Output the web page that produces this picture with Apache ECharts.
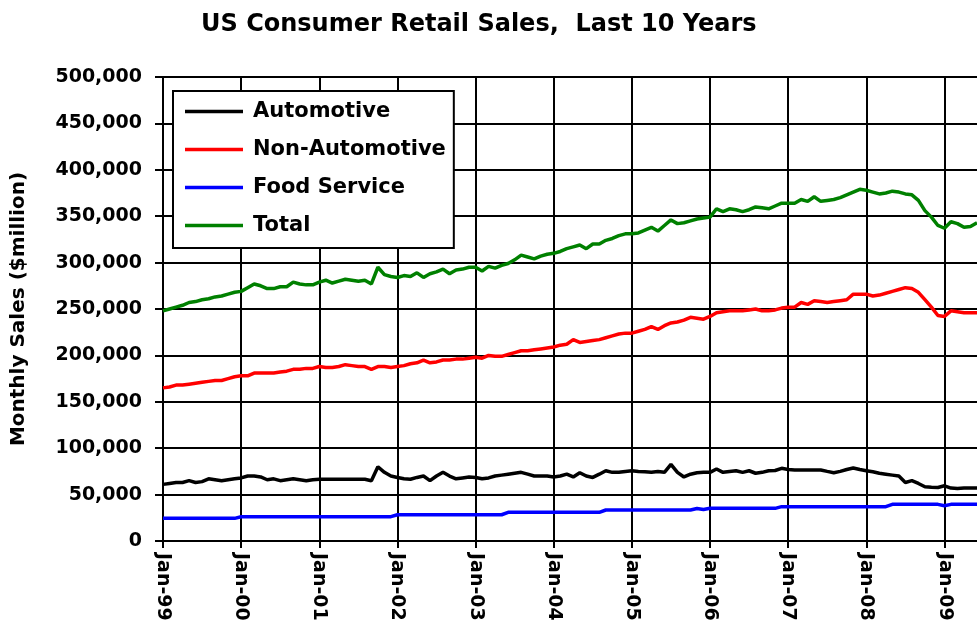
<!DOCTYPE html>
<html>
<head>
<meta charset="utf-8">
<script src="https://cdn.jsdelivr.net/npm/echarts@6/dist/echarts.min.js"></script>
<style>
  html, body { margin: 0; padding: 0; background: #fff; }
  #chart { width: 977px; height: 637px; }
</style>
</head>
<body>
<div id="chart"></div>
<script>
// monthly data, Jan-99 .. Jun-09 ($million)
const years = ['99', '00', '01', '02', '03', '04', '05', '06', '07', '08', '09']
const monthNames = ['Jan', 'Feb', 'Mar', 'Apr', 'May', 'Jun', 'Jul', 'Aug', 'Sep', 'Oct', 'Nov', 'Dec']
const lastMonthCount = 6 // 2009 stops in June

const automotive = [
  61000, 62000, 63000, 63000, 65000, 63000, 64000, 67000, 66000, 65000, 66000, 67000,
  68000, 70000, 70000, 69000, 66000, 67000, 65000, 66000, 67000, 66000, 65000, 66000,
  66500, 66500, 66500, 66500, 66500, 66500, 66500, 66500, 65000, 80000, 74000, 70000,
  68500, 67000, 66500, 68500, 70000, 65000, 70000, 74000, 70000, 67000, 68000, 69000,
  68500, 67000, 68000, 70000, 71000, 72000, 73000, 74000, 72000, 70000, 70000, 70000,
  69000, 70000, 72000, 69000, 73600, 70000, 68500, 72000, 75700, 74000, 74000, 75000,
  75700, 75000, 74500, 74000, 75000, 74000, 82600, 74000, 69000, 72000, 73600, 74000,
  74000, 77600, 74000, 75000, 75700, 74000, 75700, 73000, 74000, 75700, 76000, 78300,
  77000, 76500, 76500, 76500, 76500, 76500, 75000, 73600, 75000, 77000, 78700, 77000,
  75700, 74600, 73000, 72000, 71000, 70000, 63000, 65000, 62000, 58500, 58000, 57700,
  59500, 57000, 56500, 57000, 57000, 57000
]
const nonAutomotive = [
  165000, 166000, 168000, 168000, 169000, 170000, 171000, 172000, 173000, 173000, 175000, 177000,
  178000, 178000, 181000, 181000, 181000, 181000, 182000, 183000, 185000, 185000, 186000, 186000,
  188000, 187000, 187000, 188000, 190000, 189000, 188000, 188000, 185000, 188000, 188000, 187000,
  188000, 189000, 191000, 192000, 195000, 192000, 193000, 195000, 195000, 196000, 196000, 197000,
  198000, 197000, 200000, 199000, 199000, 201000, 203000, 205000, 205000, 206000, 207000, 208000,
  209000, 211000, 212000, 217000, 214000, 215000, 216000, 217000, 219000, 221000, 223000, 224000,
  224000, 226000, 228000, 231000, 228000, 232000, 235000, 236000, 238000, 241000, 240000, 239000,
  242000, 246000, 247000, 248000, 248000, 248000, 249000, 250000, 248000, 248000, 249000, 251000,
  252000, 252000, 257000, 255000, 259000, 258000, 257000, 258000, 259000, 260000, 266000, 266000,
  266000, 264000, 265000, 267000, 269000, 271000, 273000, 272000, 268000, 260000, 252000, 243000,
  242000, 248000, 247000, 246000, 246000, 246000
]
const foodService = [
  24400, 24400, 24400, 24400, 24400, 24400, 24400, 24400, 24400, 24400, 24400, 24400,
  26200, 26200, 26200, 26200, 26200, 26200, 26200, 26200, 26200, 26200, 26200, 26200,
  26200, 26200, 26200, 26200, 26200, 26200, 26200, 26200, 26200, 26200, 26200, 26200,
  28300, 28300, 28300, 28300, 28300, 28300, 28300, 28300, 28300, 28300, 28300, 28300,
  28300, 28300, 28300, 28300, 28300, 30900, 30900, 30900, 30900, 30900, 30900, 30900,
  30900, 30900, 30900, 30900, 30900, 30900, 30900, 30900, 33400, 33400, 33400, 33400,
  33400, 33400, 33400, 33400, 33400, 33400, 33400, 33400, 33400, 33400, 35000, 34000,
  35200, 35200, 35200, 35200, 35200, 35200, 35200, 35200, 35200, 35200, 35200, 37000,
  37000, 37000, 37000, 37000, 37000, 37000, 37000, 37000, 37000, 37000, 37000, 37000,
  37000, 37000, 37000, 37000, 39500, 39500, 39500, 39500, 39500, 39500, 39500, 39500,
  38000, 39500, 39500, 39500, 39500, 39500
]
const total = [
  248000, 250000, 252000, 254000, 257000, 258000, 260000, 261000, 263000, 264000, 266000, 268000,
  269000, 273000, 277000, 275000, 272000, 272000, 274000, 274000, 279000, 277000, 276000, 276000,
  279000, 281000, 278000, 280000, 282000, 281000, 280000, 281000, 277000, 295000, 287000, 285000,
  284000, 286000, 285000, 289000, 284000, 288000, 290000, 293000, 288000, 292000, 293000, 295000,
  295000, 291000, 296000, 294000, 297000, 299000, 303000, 308000, 306000, 304000, 307000, 309000,
  310000, 312000, 315000, 317000, 319000, 315000, 320000, 320000, 324000, 326000, 329000, 331000,
  331000, 332000, 335000, 338000, 334000, 340000, 346000, 342000, 343000, 345000, 347000, 348000,
  349000, 358000, 355000, 358000, 357000, 355000, 357000, 360000, 359000, 358000, 361000, 364000,
  364000, 364000, 368000, 366000, 371000, 366000, 367000, 368000, 370000, 373000, 376000, 379000,
  378000, 376000, 374000, 375000, 377000, 376000, 374000, 373000, 367000, 356000, 349000, 340000,
  337000, 344000, 342000, 338000, 339000, 343000
]

const seriesNames = ['Automotive', 'Non-Automotive', 'Food Service', 'Total']
const seriesColors = ['#000000', '#ff0000', '#0000ff', '#008000']
const seriesData = [automotive, nonAutomotive, foodService, total]

// category labels like Jan-99
const categories = []
years.forEach((y, i) => {
  const n = i === years.length - 1 ? lastMonthCount : 12
  for (let m = 0; m < n; m++) categories.push(monthNames[m] + '-' + y)
})

const font = 'DejaVu Sans'
const isJan = (index) => index % 12 === 0

const option = {
  animation: false,
  backgroundColor: '#fff',
  title: {
    text: 'US Consumer Retail Sales,  Last 10 Years',
    left: 196,
    top: 8,
    textStyle: { fontFamily: font, fontWeight: 'bold', fontSize: 24, color: '#000' }
  },
  grid: { left: 163, right: 0, top: 77, bottom: 96, containLabel: false },
  legend: {
    orient: 'vertical',
    left: 173,
    top: 91,
    backgroundColor: '#fff',
    borderColor: '#000',
    borderWidth: 2,
    borderRadius: 0,
    padding: [10, 8, 12, 12],
    icon: 'rect',
    itemWidth: 58,
    itemHeight: 3.5,
    itemGap: 17,
    textStyle: {
      fontFamily: font,
      fontWeight: 'bold',
      fontSize: 21,
      lineHeight: 20,
      color: '#000',
      padding: [0, 0, 0, 5]
    },
    data: seriesNames
  },
  xAxis: {
    type: 'category',
    boundaryGap: false,
    data: categories,
    axisLine: { lineStyle: { color: '#000', width: 2 } },
    axisTick: { show: true, interval: (i) => isJan(i), length: 7, lineStyle: { color: '#000', width: 2 } },
    axisLabel: {
      interval: (i) => isJan(i),
      rotate: -90,
      margin: 12,
      color: '#000',
      fontFamily: font,
      fontWeight: 'bold',
      fontSize: 19
    },
    splitLine: { show: true, interval: (i) => isJan(i), lineStyle: { color: '#000', width: 2 } }
  },
  yAxis: {
    type: 'value',
    min: 0,
    max: 500000,
    interval: 50000,
    name: 'Monthly Sales ($million)',
    nameLocation: 'middle',
    nameGap: 134,
    nameTextStyle: { fontFamily: font, fontWeight: 'bold', fontSize: 20, color: '#000' },
    axisLine: { show: true, lineStyle: { color: '#000', width: 2 } },
    axisTick: { show: true, length: 8, lineStyle: { color: '#000', width: 2 } },
    axisLabel: {
      margin: 21,
      color: '#000',
      fontFamily: font,
      fontWeight: 'bold',
      fontSize: 19,
      formatter: (v) => v.toLocaleString('en-US')
    },
    splitLine: { show: true, lineStyle: { color: '#000', width: 2 } }
  },
  series: seriesNames.map((name, i) => ({
    name: name,
    type: 'line',
    symbol: 'none',
    data: seriesData[i],
    lineStyle: { color: seriesColors[i], width: 3.5 },
    itemStyle: { color: seriesColors[i] }
  }))
}

const myChart = echarts.init(document.getElementById('chart'))
myChart.setOption(option)
</script>
</body>
</html>
